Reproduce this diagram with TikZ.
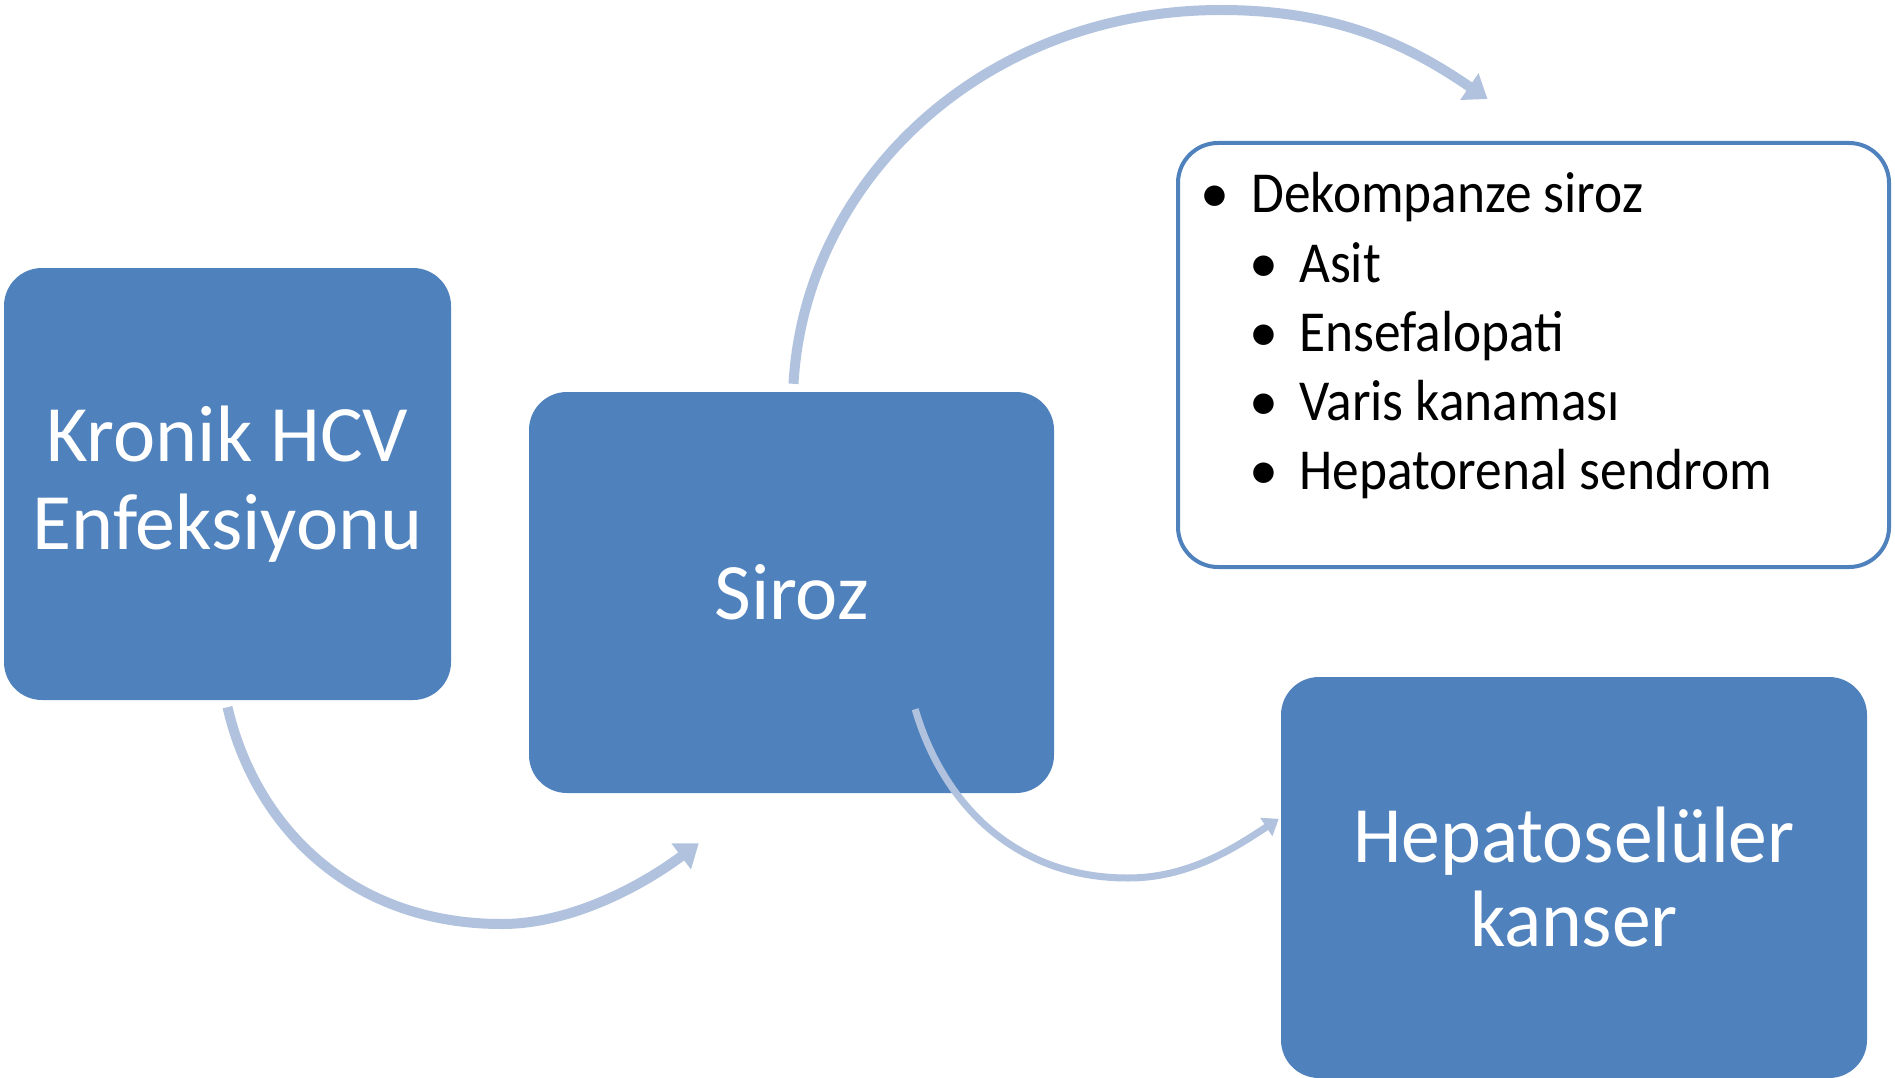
\documentclass[tikz,border=0pt]{standalone}
\usepackage{fontspec}
\usepackage{graphicx}
\setmainfont{Carlito}
\usetikzlibrary{arrows.meta}
\definecolor{boxblue}{HTML}{4F81BD}
\definecolor{arrowblue}{HTML}{B1C2DE}
\newcommand{\listtxt}[1]{\scalebox{0.92}[1]{#1}}
\begin{document}
\begin{tikzpicture}[x=1pt,y=-1pt,
  bluebox/.style={fill=boxblue, draw=none, rounded corners=38pt, text=white,
    font=\fontsize{80}{88}\selectfont, align=center, inner sep=0pt},
  listbox/.style={draw=boxblue, line width=4pt, fill=white, rounded corners=40pt, inner sep=0pt},
  listline/.style={anchor=base west, inner sep=0pt, font=\fontsize{58}{69}\selectfont, text=black},
  flowbig/.style={draw=arrowblue, line width=10pt, -{Triangle[width=31pt,length=22pt]}},
  flowsmall/.style={draw=arrowblue, line width=7pt, -{Triangle[width=21pt,length=15pt]}}
]
\useasboundingbox (0,0) rectangle (1895,1078);
\fill[white] (0,0) rectangle (1895,1078);

\node[bluebox, minimum width=447pt, minimum height=432pt] (b1) at (227.5,484) {Kronik HCV\\Enfeksiyonu};
\node[bluebox, minimum width=525pt, minimum height=401pt] (b2) at (791.5,592.5) {Siroz};
\node[listbox, minimum width=711pt, minimum height=424pt] (b3) at (1533.5,355) {};
\node[bluebox, minimum width=586pt, minimum height=401pt, font=\fontsize{80}{84}\selectfont] (b4) at (1574,877.5) {\scalebox{0.97}[1]{Hepatoselüler}\\\scalebox{0.97}[1]{kanser}};

\node[listline] (l1) at (1200,213) {\makebox[51pt][l]{•}\listtxt{Dekompanze siroz}};
\node[listline] (l2) at (1249,282) {\makebox[50pt][l]{•}\listtxt{Asit}};
\node[listline] (l3) at (1249,351) {\makebox[50pt][l]{•}\listtxt{Ensefalopati}};
\node[listline] (l4) at (1249,420) {\makebox[50pt][l]{•}\listtxt{Varis kanaması}};
\node[listline] (l5) at (1249,489) {\makebox[50pt][l]{•}\listtxt{Hepatorenal sendrom}};

\draw[flowbig] ([yshift=-7pt]b1.south) .. controls (255,826) and (350,924) .. (502,924)
  .. controls (572,924) and (643,885) .. ([shift={(170pt,-50pt)}]b2.south west);
\draw[flowbig] ([shift={(2pt,8pt)}]b2.north) .. controls (805,179) and (985,10) .. (1221,10)
  .. controls (1341,10) and (1413,48) .. ([shift={(-46pt,42pt)}]b3.north);
\draw[flowsmall] ([shift={(-139pt,84pt)}]b2.south east) .. controls (941,798) and (1010,878) .. (1128,878)
  .. controls (1188,878) and (1233,849) .. ([shift={(-2pt,-142pt)}]b4.north west);
\end{tikzpicture}
\end{document}
